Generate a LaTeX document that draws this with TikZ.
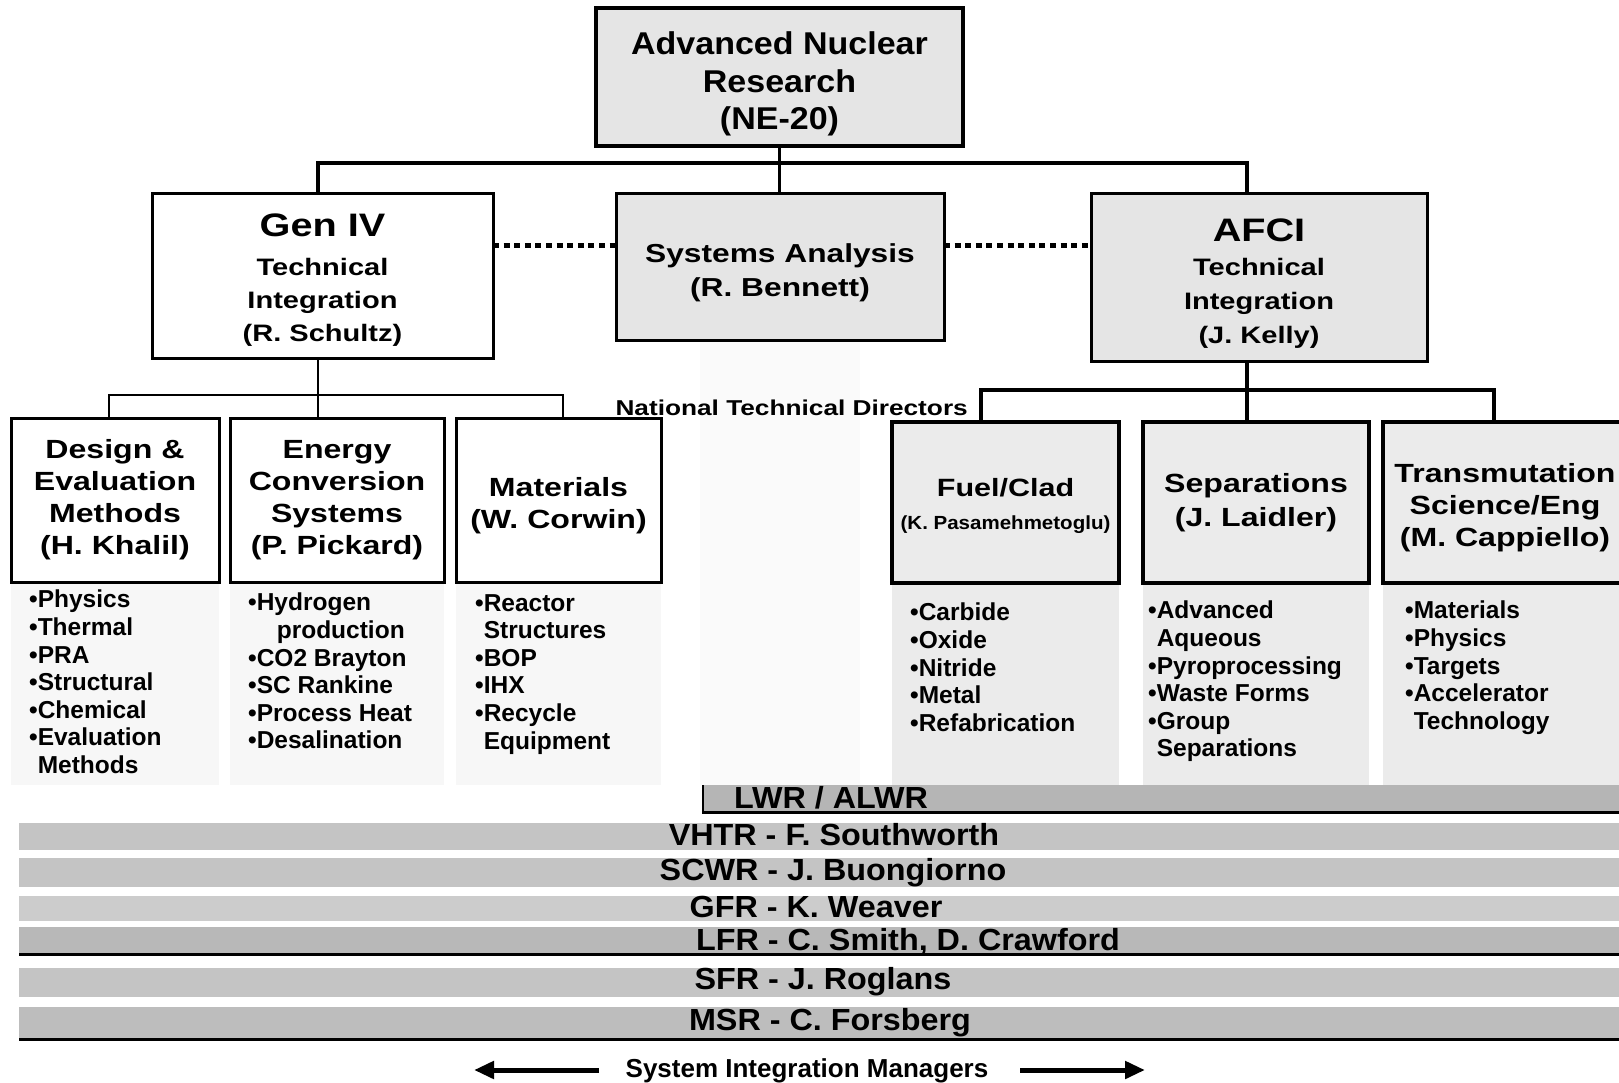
\documentclass[tikz,border=0pt]{standalone}
\usepackage{fontspec}
\setmainfont{Liberation Sans}
\newfontfamily\wfont{Liberation Sans}[FakeStretch=1.22]
\newfontfamily\mfont{Liberation Sans}[FakeStretch=1.08]
\newfontfamily\bfont{Liberation Sans}[FakeStretch=1.06]
\usetikzlibrary{arrows.meta}
\newcommand{\setfs}[2]{\fontsize{#1}{#2}\selectfont}

\tikzset{
  box/.style={draw=black, rectangle, inner sep=0pt, outer sep=0pt,
              align=center, line width=3pt, fill=white},
  heavybox/.style={box, line width=4.5pt},
  shade/.style={fill=gray!20},
  conn/.style={line width=3.5pt},
  thinconn/.style={line width=2.5pt},
  heavyconn/.style={line width=4.5pt},
  dotline/.style={line width=5pt, dash pattern=on 6pt off 4.6pt},
  listtext/.style={anchor=north west, align=left, inner sep=0pt,
                   font=\bfseries\setfs{24.5}{27.6}},
  bandtext/.style={anchor=base, inner sep=0pt, font=\bfont\bfseries\setfs{30.5}{31}},
  bigarrow/.style={line width=5pt, -{Triangle[length=20pt,width=17pt]}},
}

\begin{document}
\begin{tikzpicture}[x=1pt, y=-1pt]
\useasboundingbox (0,0) rectangle (1619,1082);
\fill[white] (0,0) rectangle (1619,1082);

% stippled backgrounds behind the task lists and the analysis column
\fill[gray!4] (700,340) rectangle (860,785);
\fill[gray!6] (11,582) rectangle (219,785);
\fill[gray!6] (230,582) rectangle (444,785);
\fill[gray!6] (456,582) rectangle (661,785);
\fill[gray!16] (892,583) rectangle (1119,785);
\fill[gray!16] (1143,583) rectangle (1369,785);
\fill[gray!16] (1383,583) rectangle (1619,785);

% ---- top level ----
\node[box, shade, line width=3.5pt, minimum width=367, minimum height=138,
      font=\mfont\bfseries\setfs{31.5}{37.5}] (ne20) at (779.5,77)
  {\rule{0pt}{37pt}Advanced Nuclear\\Research\\(NE-20)};

% ---- second level ----
\node[box, minimum width=341, minimum height=165,
      font=\wfont\bfseries\setfs{23.8}{33}] (gen4) at (322.5,275.5)
  {\rule{0pt}{32pt}{\setfs{32.5}{33}Gen IV}\\[6pt]Technical\\Integration\\(R. Schultz)};
\node[box, shade, minimum width=328, minimum height=147,
      font=\wfont\bfseries\setfs{26}{34}] (sa) at (780,266.5)
  {\rule{0pt}{31pt}Systems Analysis\\(R. Bennett)};
\node[box, shade, minimum width=336, minimum height=168,
      font=\wfont\bfseries\setfs{23.8}{34}] (afci) at (1259,277)
  {\rule{0pt}{35pt}{\setfs{32.5}{34}AFCI}\\Technical\\Integration\\(J. Kelly)};

% ---- Gen IV areas ----
\node[box, minimum width=208, minimum height=164,
      font=\wfont\bfseries\setfs{26.3}{32}] (design) at (115,500)
  {Design \&\\Evaluation\\Methods\\(H. Khalil)};
\node[box, minimum width=214, minimum height=164,
      font=\wfont\bfseries\setfs{26.3}{32}] (energy) at (337,500)
  {Energy\\Conversion\\Systems\\(P. Pickard)};
\node[box, minimum width=205, minimum height=164,
      font=\wfont\bfseries\setfs{26.3}{32}] (mat) at (558.5,500)
  {\rule{0pt}{31pt}Materials\\(W. Corwin)};

% ---- AFCI areas ----
\node[heavybox, fill=gray!16, minimum width=227, minimum height=161,
      font=\wfont\bfseries\setfs{25}{33}] (fuel) at (1005.5,502.5)
  {\rule{0pt}{26pt}Fuel/Clad\\{\mfont\bfseries\setfs{19}{33}(K. Pasamehmetoglu)}};
\node[heavybox, fill=gray!16, minimum width=226, minimum height=161,
      font=\wfont\bfseries\setfs{26.3}{34}] (sep) at (1256,502.5)
  {Separations\\(J. Laidler)};
\node[heavybox, fill=gray!16, minimum width=244, minimum height=161,
      font=\wfont\bfseries\setfs{26.3}{32}] (trans) at (1505,502.5)
  {\rule{0pt}{29pt}Transmutation\\Science/Eng\\(M. Cappiello)};

% ---- connectors ----
\coordinate (busA) at (318,163);
\coordinate (busB) at (1247,163);
\draw[conn] (ne20.south) -- (ne20.south |- sa.north);
\draw[conn] (busA |- gen4.north) -- (busA) -- (busB) -- (busB |- afci.north);

\coordinate (dotrow) at (0,245);
\draw[dotline] (gen4.east |- dotrow) -- (sa.west |- dotrow);
\draw[dotline] (sa.east |- dotrow) -- (afci.west |- dotrow);

\coordinate (lb1) at (109,395);
\coordinate (lb2) at (318,395);
\coordinate (lb3) at (563,395);
\draw[thinconn] (lb2 |- gen4.south) -- (lb2 |- energy.north);
\draw[thinconn] (lb1 |- design.north) -- (lb1) -- (lb3) -- (lb3 |- mat.north);

\coordinate (rb1) at (981,390);
\coordinate (rb2) at (1247,390);
\coordinate (rb3) at (1494,390);
\draw[heavyconn] (rb2 |- afci.south) -- (rb2 |- sep.north);
\draw[heavyconn] (rb1 |- fuel.north) -- (rb1) -- (rb3) -- (rb3 |- trans.north);

\node[anchor=base east, inner sep=0pt, font=\wfont\bfseries\setfs{21.5}{24}]
  (ntd) at (968,415) {National Technical Directors};

% ---- task lists ----
\node[listtext] (designlist) at (29,590)
  {•Physics\\•Thermal\\•PRA\\•Structural\\•Chemical\\•Evaluation\\\phantom{•}Methods};
\node[listtext] (energylist) at (248,593)
  {•Hydrogen\\\phantom{•}\hspace{20pt}production\\•CO2 Brayton\\•SC Rankine\\•Process Heat\\•Desalination};
\node[listtext] (matlist) at (475,594)
  {•Reactor\\\phantom{•}Structures\\•BOP\\•IHX\\•Recycle\\\phantom{•}Equipment};
\node[listtext] (fuellist) at (910,603)
  {•Carbide\\•Oxide\\•Nitride\\•Metal\\•Refabrication};
\node[listtext] (seplist) at (1148,601)
  {•Advanced\\\phantom{•}Aqueous\\•Pyroprocessing\\•Waste Forms\\•Group\\\phantom{•}Separations};
\node[listtext] (translist) at (1405,601)
  {•Materials\\•Physics\\•Targets\\•Accelerator\\\phantom{•}Technology};

% ---- system integration bands ----
\fill[gray!58] (702,785) rectangle (1619,813);
\draw[line width=3pt] (702,812) -- (1619,812);
\draw[line width=2pt] (703,785) -- (703,813);
\fill[gray!46] (19,823) rectangle (1619,850);
\fill[gray!46] (19,858) rectangle (1619,887);
\fill[gray!40] (19,896) rectangle (1619,921);
\fill[gray!56] (19,927) rectangle (1619,955);
\draw[line width=3pt] (19,954) -- (1619,954);
\fill[gray!46] (19,968) rectangle (1619,997);
\fill[gray!52] (19,1007) rectangle (1619,1040);
\draw[line width=3pt] (19,1039) -- (1619,1039);

\node[bandtext] (lwr)  at (831,808)  {LWR / ALWR};
\node[bandtext] (vhtr) at (834,845)  {VHTR - F. Southworth};
\node[bandtext] (scwr) at (833,880)  {SCWR - J. Buongiorno};
\node[bandtext] (gfr)  at (816,917)  {GFR - K. Weaver};
\node[bandtext] (lfr)  at (908,950)  {LFR - C. Smith, D. Crawford};
\node[bandtext] (sfr)  at (823,989)  {SFR - J. Roglans};
\node[bandtext] (msr)  at (830,1030) {MSR - C. Forsberg};

% ---- managers label with arrows ----
\node[anchor=base, inner sep=0pt, font=\bfseries\setfs{26}{28}] (sim) at (807,1077)
  {System Integration Managers};
\coordinate (la0) at (599,1070);
\coordinate (la1) at (474,1070);
\coordinate (ra0) at (1020,1070);
\coordinate (ra1) at (1145,1070);
\draw[bigarrow] (la0) -- (la1);
\draw[bigarrow] (ra0) -- (ra1);
\end{tikzpicture}
\end{document}
